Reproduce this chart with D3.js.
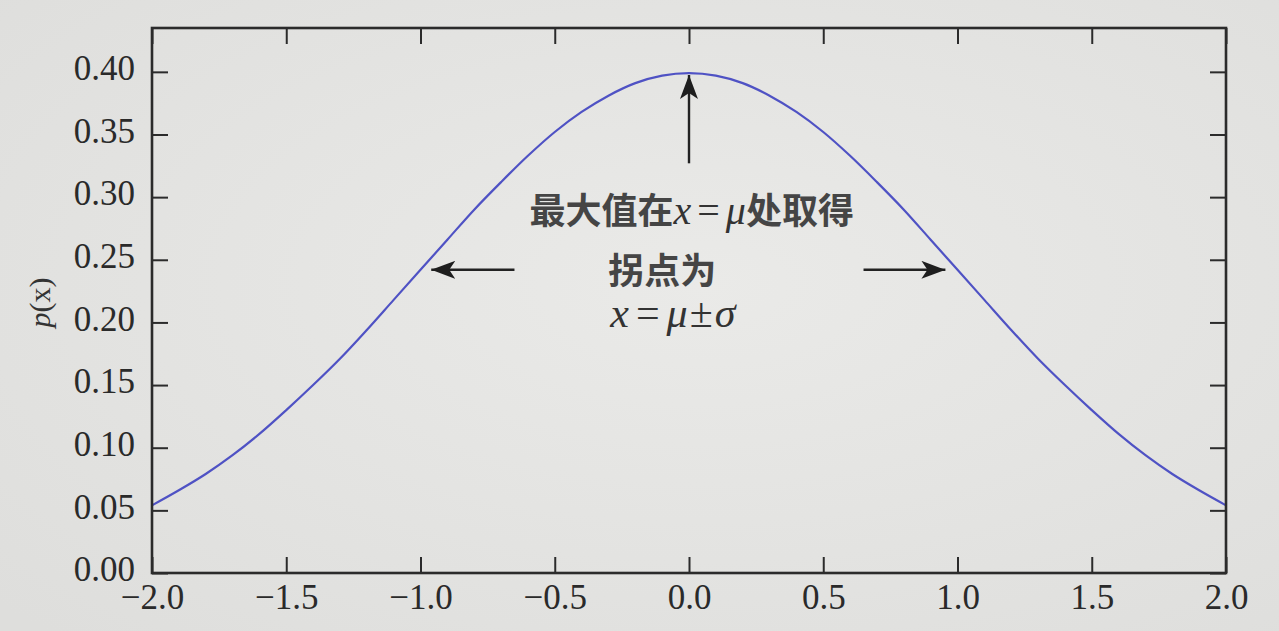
<!DOCTYPE html>
<html><head><meta charset="utf-8">
<script src="https://cdn.jsdelivr.net/npm/d3@7"></script>
<style>
html,body{margin:0;padding:0;background:#e5e5e3;}
svg{display:block;}
</style></head>
<body>
<script>
// x positions and p(x) values
const xs = [-2.0,-1.9,-1.8,-1.7,-1.6,-1.5,-1.4,-1.3,-1.2,-1.1,-1.0,-0.9,-0.8,-0.7,-0.6,-0.5,-0.4,-0.3,-0.2,-0.1,0.0,
            0.1,0.2,0.3,0.4,0.5,0.6,0.7,0.8,0.9,1.0,1.1,1.2,1.3,1.4,1.5,1.6,1.7,1.8,1.9,2.0];
const px = [0.054,0.066,0.079,0.094,0.111,0.130,0.150,0.171,0.194,0.218,0.242,0.266,0.290,0.312,0.333,0.352,0.368,0.381,0.391,0.397,0.399,
            0.397,0.391,0.381,0.368,0.352,0.333,0.312,0.290,0.266,0.242,0.218,0.194,0.171,0.150,0.130,0.111,0.094,0.079,0.066,0.054];
const xTicks = [-2.0,-1.5,-1.0,-0.5,0.0,0.5,1.0,1.5,2.0];
const yTicks = [0.00,0.05,0.10,0.15,0.20,0.25,0.30,0.35,0.40];
const yLabel = "p(x)";
const annMax = ["最大值在", "x", "=", "μ", "处取得"];
const annInfl = "拐点为";

const W = 1279, H = 631;
const L = 152, R = 1226, T = 28, B = 573;
const svg = d3.select("body").append("svg").attr("width", W).attr("height", H);

const defs = svg.append("defs");
const grad = defs.append("radialGradient").attr("id","paper").attr("cx","55%").attr("cy","45%").attr("r","75%");
grad.append("stop").attr("offset","0%").attr("stop-color","#eaeae8");
grad.append("stop").attr("offset","100%").attr("stop-color","#dededc");
svg.append("rect").attr("width",W).attr("height",H).attr("fill","url(#paper)");

defs.append("marker").attr("id","ah").attr("viewBox","0 0 24 18").attr("refX",24).attr("refY",9)
  .attr("markerWidth",24).attr("markerHeight",18).attr("orient","auto").attr("markerUnits","userSpaceOnUse")
  .append("path").attr("d","M0,0 L24,9 L0,18 L6,9 Z").attr("fill","#1e1e1e");

const x = d3.scaleLinear().domain([-2,2]).range([L,R]);
const y = d3.scaleLinear().domain([0,0.435]).range([B,T]);

const axisColor = "#2b2b2b";
const tickFont = "Liberation Serif, DejaVu Serif, serif";

// curve
const line = d3.line().x((d,i)=>x(xs[i])).y(d=>y(d)).curve(d3.curveCatmullRom);
svg.append("path").datum(px).attr("d", line).attr("fill","none")
  .attr("stroke","#4f52c4").attr("stroke-width",2.2);

// axes (ticks inward on all sides)
const tl = 16;
const fmtX = d => (d<0 ? "\u2212" : "") + Math.abs(d).toFixed(1);
svg.append("g").attr("transform",`translate(0,${B})`)
  .call(d3.axisBottom(x).tickValues(xTicks).tickSizeInner(-tl).tickSizeOuter(0).tickPadding(11).tickFormat(fmtX))
  .call(g=>{g.select(".domain").remove();
    g.selectAll("line").attr("stroke",axisColor).attr("stroke-width",2);
    g.selectAll("text").attr("font-family",tickFont).attr("font-size",35).attr("fill","#2a2a2a");});
svg.append("g").attr("transform",`translate(0,${T})`)
  .call(d3.axisTop(x).tickValues(xTicks).tickSizeInner(-tl).tickSizeOuter(0).tickFormat(""))
  .call(g=>{g.select(".domain").remove(); g.selectAll("line").attr("stroke",axisColor).attr("stroke-width",2);});
svg.append("g").attr("transform",`translate(${L},0)`)
  .call(d3.axisLeft(y).tickValues(yTicks).tickSizeInner(-tl).tickSizeOuter(0).tickPadding(17).tickFormat(d3.format(".2f")))
  .call(g=>{g.select(".domain").remove();
    g.selectAll("line").attr("stroke",axisColor).attr("stroke-width",2);
    g.selectAll("text").attr("font-family",tickFont).attr("font-size",35).attr("fill","#2a2a2a").attr("dy","0.22em");});
svg.append("g").attr("transform",`translate(${R},0)`)
  .call(d3.axisRight(y).tickValues(yTicks).tickSizeInner(-tl).tickSizeOuter(0).tickFormat(""))
  .call(g=>{g.select(".domain").remove(); g.selectAll("line").attr("stroke",axisColor).attr("stroke-width",2);});

svg.append("rect").attr("x",L).attr("y",T).attr("width",R-L).attr("height",B-T)
  .attr("fill","none").attr("stroke",axisColor).attr("stroke-width",2.6);

// y label
const yl = svg.append("text").attr("transform",`translate(50,${(T+B)/2+2}) rotate(-90)`)
  .attr("text-anchor","middle").attr("font-family",tickFont).attr("font-size",30).attr("fill","#333");
yl.append("tspan").attr("font-style","italic").text(yLabel[0]);
yl.append("tspan").text(yLabel.slice(1));

// annotations
const cjk = "'Noto Sans CJK SC', sans-serif";
const arrow = (x1,y1,x2,y2) => svg.append("line").attr("x1",x1).attr("y1",y1).attr("x2",x2).attr("y2",y2)
  .attr("stroke","#222").attr("stroke-width",2.4).attr("marker-end","url(#ah)");
arrow(x(0), y(0.327), x(0), y(0.3975));
arrow(x(-0.65), y(0.242), x(-0.96), y(0.242));
arrow(x(0.65), y(0.242), x(0.955), y(0.242));

const t1 = svg.append("text").attr("x", x(0.01)).attr("y", 224).attr("text-anchor","middle")
  .attr("font-size",36).attr("font-weight","bold").attr("fill","#454545").attr("font-family",cjk);
t1.append("tspan").attr("font-family",cjk).text(annMax[0]);
t1.append("tspan").attr("font-family",tickFont).attr("font-weight","normal").attr("font-style","italic").attr("font-size",40).attr("fill","#333").text(annMax[1]);
t1.append("tspan").attr("font-family",tickFont).attr("font-weight","normal").attr("font-size",40).attr("fill","#333").attr("dx",6).text(annMax[2]);
t1.append("tspan").attr("font-family",tickFont).attr("font-weight","normal").attr("font-style","italic").attr("font-size",40).attr("fill","#333").attr("dx",6).text(annMax[3]);
t1.append("tspan").attr("font-family",cjk).text(annMax[4]);

svg.append("text").attr("x", x(-0.1)).attr("y", 284).attr("text-anchor","middle")
  .attr("font-size",36).attr("font-weight","bold").attr("fill","#454545").attr("font-family",cjk).text(annInfl);
const t3 = svg.append("text").attr("x", x(-0.06)).attr("y", 327).attr("text-anchor","middle")
  .attr("font-size",42).attr("fill","#333").attr("font-family",tickFont);
t3.append("tspan").attr("font-style","italic").text("x");
t3.append("tspan").attr("dx",7).text("=");
t3.append("tspan").attr("dx",7).attr("font-style","italic").text("μ");
t3.append("tspan").attr("dx",2).text("±");
t3.append("tspan").attr("dx",2).attr("font-style","italic").text("σ");
</script>
</body></html>
